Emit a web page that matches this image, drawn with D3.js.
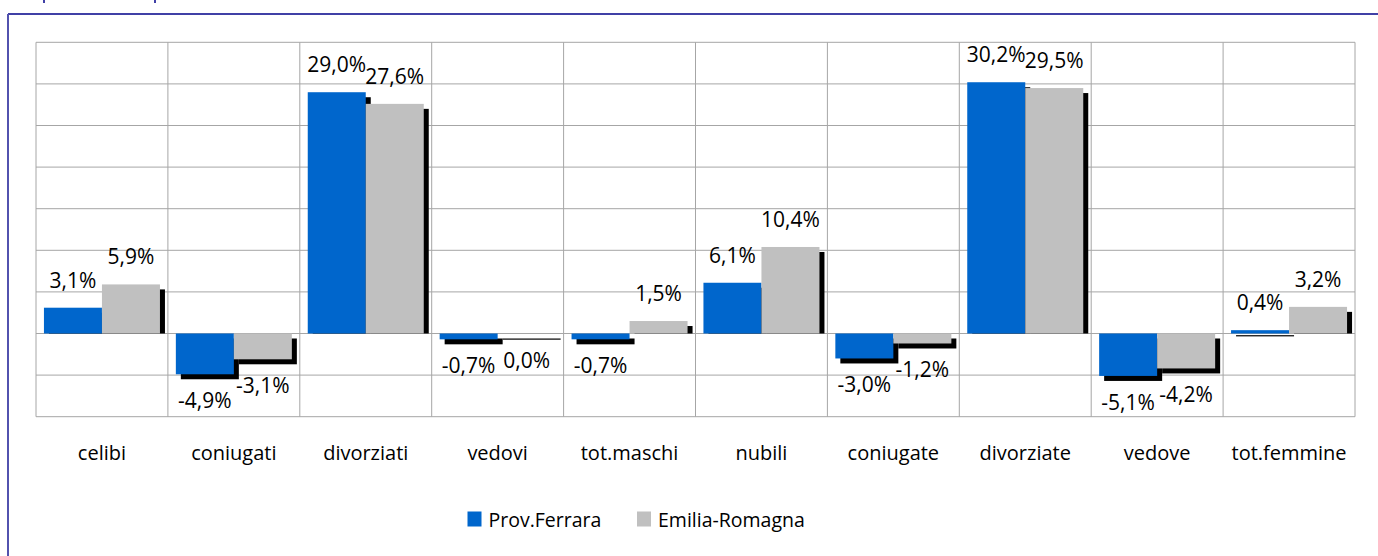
<!DOCTYPE html>
<html>
<head>
<meta charset="utf-8">
<script src="https://cdn.jsdelivr.net/npm/d3@7"></script>
<style>
  body { margin: 0; background: #fff; }
  svg text { font-family: "Open Sans", "Noto Sans", sans-serif; fill: #000; }
</style>
</head>
<body>
<div id="chart"></div>
<script>

const categories = ['celibi', 'coniugati', 'divorziati', 'vedovi', 'tot.maschi',
                    'nubili', 'coniugate', 'divorziate', 'vedove', 'tot.femmine']
const seriesNames = ['Prov.Ferrara', 'Emilia-Romagna']
const ferrara = [3.1, -4.9, 29.0, -0.7, -0.7, 6.1, -3.0, 30.2, -5.1, 0.4]
const emilia = [5.9, -3.1, 27.6, 0.0, 1.5, 10.4, -1.2, 29.5, -4.2, 3.2]
const yTicks = [-10, -5, 0, 5, 10, 15, 20, 25, 30, 35]
const colors = ['#0066cc', '#c0c0c0']

const width = 1378, height = 556
const plot = { left: 36, right: 1355, top: 42.3, bottom: 416.7 }

const data = categories.map((c, i) => ({
  cat: c,
  values: [
    { name: seriesNames[0], v: ferrara[i], s: 0 },
    { name: seriesNames[1], v: emilia[i], s: 1 }
  ]
}))

const svg = d3.select('#chart').append('svg')
  .attr('width', width)
  .attr('height', height)

// outer frame (only top and left edges are visible)
svg.append('line')
  .attr('x1', 8).attr('x2', width).attr('y1', 14).attr('y2', 14)
  .attr('stroke', '#4040a6').attr('stroke-width', 2)
svg.append('line')
  .attr('x1', 8).attr('x2', 8).attr('y1', 14).attr('y2', height)
  .attr('stroke', '#5252ae').attr('stroke-width', 2)
svg.selectAll('.stub')
  .data([44, 155])
  .enter().append('line')
    .attr('x1', d => d).attr('x2', d => d)
    .attr('y1', 0).attr('y2', 3)
    .attr('stroke', '#4040a6').attr('stroke-width', 2)

// Scales

let x0 = d3.scaleBand()
  .domain(categories)
  .range([plot.left, plot.right])

let x1 = d3.scaleBand()
  .domain(seriesNames)
  .range([0, x0.bandwidth()])
  .paddingOuter(0.137)

let y = d3.scaleLinear()
  .domain([-10, 35])
  .range([plot.bottom, plot.top])

// Grid

const grid = svg.append('g').attr('class', 'grid')
grid.selectAll('.hgrid')
  .data(yTicks)
  .enter().append('line')
    .attr('x1', plot.left).attr('x2', plot.right)
    .attr('y1', d => y(d)).attr('y2', d => y(d))
    .attr('stroke', '#a6a6a6').attr('stroke-width', 1)

const vlines = categories.map(c => x0(c)).concat([plot.right])
grid.selectAll('.vgrid')
  .data(vlines)
  .enter().append('line')
    .attr('x1', d => d).attr('x2', d => d)
    .attr('y1', plot.top).attr('y2', plot.bottom)
    .attr('stroke', '#a6a6a6').attr('stroke-width', 1)

// Bars

const shadowOff = 5
const groups = svg.selectAll('.cat')
  .data(data)
  .enter().append('g')
    .attr('class', 'cat')
    .attr('transform', d => 'translate(' + x0(d.cat) + ',0)')

groups.selectAll('.shadow')
  .data(d => d.values)
  .enter().append('rect')
    .attr('class', 'shadow')
    .attr('x', d => x1(d.name) + shadowOff)
    .attr('width', x1.bandwidth())
    .attr('y', d => d.v > 0 ? y(d.v) + shadowOff : y(0) + shadowOff)
    .attr('height', d => d.v > 0
      ? Math.max(1.2, y(0) - y(d.v) - shadowOff)
      : Math.max(1.2, y(d.v) - y(0)))
    .attr('fill', '#000')

groups.selectAll('.bar')
  .data(d => d.values)
  .enter().append('rect')
    .attr('class', 'bar')
    .attr('x', d => x1(d.name))
    .attr('width', x1.bandwidth())
    .attr('y', d => y(Math.max(0, d.v)))
    .attr('height', d => Math.abs(y(d.v) - y(0)))
    .attr('fill', d => colors[d.s])

groups.selectAll('.lbl')
  .data(d => d.values)
  .enter().append('text')
    .attr('class', 'lbl')
    .attr('x', d => x1(d.name) + x1.bandwidth() / 2)
    .attr('y', d => d.v > 0 ? y(d.v) - 20 : y(d.v) + 34)
    .attr('text-anchor', 'middle')
    .style('font-size', '21px')
    .text(d => d.v.toFixed(1).replace('.', ',') + '%')

// Category axis labels

svg.append('g').selectAll('text')
  .data(categories)
  .enter().append('text')
    .attr('x', d => x0(d) + x0.bandwidth() / 2)
    .attr('y', 460)
    .attr('text-anchor', 'middle')
    .style('font-size', '20px')
    .text(d => d)

// Legend

const legendX = [467.5, 637]
const legend = svg.append('g').selectAll('.leg')
  .data(seriesNames)
  .enter().append('g')
    .attr('class', 'leg')
    .attr('transform', (d, i) => 'translate(' + legendX[i] + ',511.5)')
legend.append('rect')
  .attr('width', 14).attr('height', 15)
  .attr('fill', (d, i) => colors[i])
legend.append('text')
  .attr('x', 21).attr('y', 15.5)
  .style('font-size', '19.5px')
  .text(d => d)

</script>
</body>
</html>
